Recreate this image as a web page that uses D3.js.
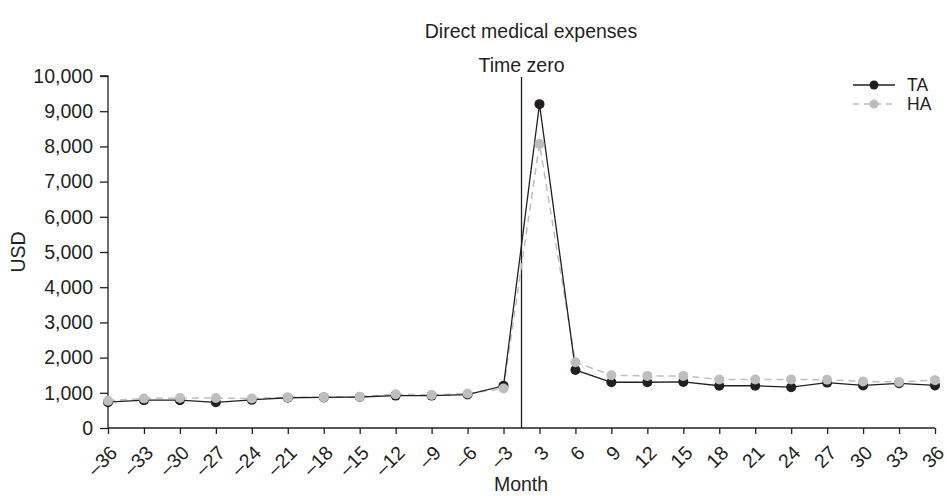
<!DOCTYPE html>
<html><head><meta charset="utf-8">
<script src="https://cdn.jsdelivr.net/npm/d3@7"></script>
<style>
body{margin:0;background:#fff;}
text{font-family:"Liberation Sans",Arial,sans-serif;fill:#231f20;}
</style></head>
<body>
<svg id="c" width="947" height="496"></svg>
<script>
const months = [-36,-33,-30,-27,-24,-21,-18,-15,-12,-9,-6,-3,3,6,9,12,15,18,21,24,27,30,33,36];
const taValues = [735,790,790,730,800,860,870,880,920,920,950,1200,9200,1650,1300,1300,1310,1200,1200,1160,1290,1210,1270,1210];
const haValues = [775,840,850,850,840,870,875,885,960,940,980,1120,8070,1870,1500,1480,1480,1380,1380,1380,1370,1320,1310,1360];
const yTicks = [0,1000,2000,3000,4000,5000,6000,7000,8000,9000,10000];
const seriesNames = ["TA","HA"];

const svg = d3.select("#c");
const fs = 19.5;
const x = d3.scalePoint().domain(months).range([108, 935]);
const y = d3.scaleLinear().domain([0,10000]).range([428, 76]);
const ink = "#231f20", grey = "#bcbec0";

// axes
const yAxis = d3.axisLeft(y).tickValues(yTicks).tickSize(8).tickPadding(7).tickFormat(d3.format(","));
const gy = svg.append("g").attr("transform","translate(108,0)").call(yAxis);
gy.select(".domain").attr("d","M-8,76H0V428").attr("stroke",ink).attr("stroke-width",1.3);
gy.selectAll(".tick line").attr("stroke",ink).attr("stroke-width",1.3);
gy.selectAll(".tick text").attr("font-size",fs).style("font-family","Liberation Sans, Arial, sans-serif").attr("fill",ink);

const xAxis = d3.axisBottom(x).tickSize(6).tickPadding(4).tickFormat(d => String(d).replace("-","\u2013"));
const gx = svg.append("g").attr("transform","translate(0,428)").call(xAxis);
gx.select(".domain").attr("d","M108,0H935").attr("stroke",ink).attr("stroke-width",1.3);
gx.selectAll(".tick line").attr("stroke",ink).attr("stroke-width",1.3);
gx.selectAll(".tick text").attr("font-size",fs).style("font-family","Liberation Sans, Arial, sans-serif").attr("fill",ink)
  .attr("text-anchor","end").attr("dy",null).attr("y",null)
  .attr("transform","translate(10,26) rotate(-45)");

// time zero line
const tz = (x(-3)+x(3))/2;
svg.append("line").attr("x1",tz).attr("x2",tz).attr("y1",77).attr("y2",428).attr("stroke",ink).attr("stroke-width",1.3);
svg.append("text").attr("x",tz).attr("y",72).attr("text-anchor","middle").attr("font-size",fs).text("Time zero");

// lines
const line = d3.line().x((d,i)=>x(months[i])).y(d=>y(d));
svg.append("path").datum(haValues).attr("d",line).attr("fill","none").attr("stroke",grey).attr("stroke-width",1.5).attr("stroke-dasharray","7,5");
svg.append("path").datum(taValues).attr("d",line).attr("fill","none").attr("stroke",ink).attr("stroke-width",1.3);
svg.append("g").selectAll("circle").data(taValues).join("circle")
  .attr("cx",(d,i)=>x(months[i])).attr("cy",d=>y(d)).attr("r",5).attr("fill",ink);
svg.append("g").selectAll("circle").data(haValues).join("circle")
  .attr("cx",(d,i)=>x(months[i])).attr("cy",d=>y(d)).attr("r",5).attr("fill",grey);

// titles
svg.append("text").attr("x",531).attr("y",38).attr("text-anchor","middle").attr("font-size",fs).text("Direct medical expenses");
svg.append("text").attr("x",521).attr("y",491).attr("text-anchor","middle").attr("font-size",fs).text("Month");
svg.append("text").attr("transform","translate(25,252) rotate(-90)").attr("text-anchor","middle").attr("font-size",fs).text("USD");

// legend
const leg = svg.append("g");
seriesNames.forEach((n,i)=>{
  const yy = 85 + i*19;
  const col = i===0?ink:grey;
  leg.append("line").attr("x1",853).attr("x2",895).attr("y1",yy).attr("y2",yy).attr("stroke",col).attr("stroke-width",1.4)
    .attr("stroke-dasharray", i===0?null:"6,5");
  leg.append("circle").attr("cx",874).attr("cy",yy).attr("r",4.5).attr("fill",col);
  leg.append("text").attr("x",907).attr("y",yy+6).attr("font-size",17.5).text(n);
});
</script>
</body></html>
